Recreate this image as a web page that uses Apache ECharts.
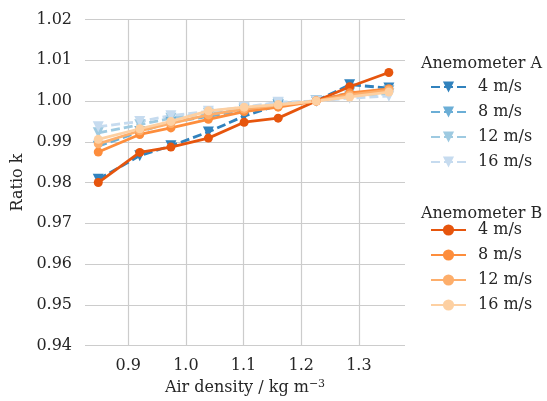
<!DOCTYPE html>
<html>
<head>
<meta charset="utf-8">
<script src="https://cdn.jsdelivr.net/npm/echarts@6/dist/echarts.min.js"></script>
<style>html,body{margin:0;padding:0;background:#fff}#c{width:547px;height:401px}</style>
</head>
<body>
<div id="c"></div>
<script>
var airDensity = [0.848, 0.920, 0.974, 1.039, 1.101, 1.160, 1.226, 1.284, 1.352];
var speedLabels = ['4 m/s', '8 m/s', '12 m/s', '16 m/s'];
var anemA_4  = [0.9808, 0.9866, 0.9890, 0.9924, 0.9963, 0.9990, 1.0000, 1.0040, 1.0032];
var anemA_8  = [0.9889, 0.9925, 0.9948, 0.9962, 0.9978, 0.9990, 1.0000, 1.0020, 1.0025];
var anemA_12 = [0.9922, 0.9942, 0.9958, 0.9970, 0.9982, 0.9995, 1.0000, 1.0012, 1.0018];
var anemA_16 = [0.9937, 0.9950, 0.9964, 0.9975, 0.9985, 0.9997, 1.0000, 1.0007, 1.0012];
var anemB_4  = [0.9800, 0.9874, 0.9887, 0.9909, 0.9948, 0.9958, 1.0000, 1.0035, 1.0070];
var anemB_8  = [0.9875, 0.9918, 0.9934, 0.9955, 0.9974, 0.9985, 1.0000, 1.0020, 1.0030];
var anemB_12 = [0.9895, 0.9927, 0.9945, 0.9966, 0.9980, 0.9990, 1.0000, 1.0015, 1.0027];
var anemB_16 = [0.9906, 0.9932, 0.9950, 0.9976, 0.9985, 0.9991, 1.0000, 1.0010, 1.0022];
var xTicks = [0.9, 1.0, 1.1, 1.2, 1.3];

var blues = ['#3182bd', '#6baed6', '#9ecae1', '#c6dbef'];
var oranges = ['#e6550d', '#fd8d3c', '#fdae6b', '#fdd0a2'];
var font = 'DejaVu Serif';
var fs = 16;

function pairs(ys) { return airDensity.map(function (x, i) { return [x, ys[i]]; }); }

var A = [anemA_4, anemA_8, anemA_12, anemA_16];
var B = [anemB_4, anemB_8, anemB_12, anemB_16];
var series = [];
A.forEach(function (ys, i) {
  series.push({
    name: 'A ' + speedLabels[i], type: 'line', data: pairs(ys),
    symbol: 'triangle', symbolRotate: 180, symbolSize: 11,
    lineStyle: { color: blues[i], width: 2.8, type: [9, 4] },
    itemStyle: { color: blues[i] }, z: 2
  });
});
B.forEach(function (ys, i) {
  series.push({
    name: 'B ' + speedLabels[i], type: 'line', data: pairs(ys),
    symbol: 'circle', symbolSize: 9,
    lineStyle: { color: oranges[i], width: 2.8 },
    itemStyle: { color: oranges[i] }, z: 3
  });
});

function legendFor(prefix, top) {
  return {
    data: speedLabels.map(function (s) { return prefix + s; }),
    orient: 'vertical', left: 430, top: top, padding: 0,
    itemWidth: 35, itemHeight: 14, itemGap: 9,
    formatter: function (n) { return n.slice(2); },
    textStyle: { fontFamily: font, fontSize: fs, color: '#262626', padding: [0, 0, 0, 7] }
  };
}

var chart = echarts.init(document.getElementById('c'));
chart.setOption({
  animation: false,
  backgroundColor: '#fff',
  grid: { left: 85, right: 142, top: 19.5, bottom: 55 },
  xAxis: {
    type: 'value', min: 0.825, max: 1.38,
    name: 'Air density / kg m{sup|\u22123}', nameLocation: 'middle', nameGap: 32,
    nameTextStyle: { fontFamily: font, fontSize: fs, color: '#262626',
      rich: { sup: { fontFamily: font, fontSize: 11, color: '#262626', verticalAlign: 'top', padding: [0, 0, 8, 0] } } },
    axisLine: { show: false }, axisTick: { show: false, customValues: xTicks },
    axisLabel: { customValues: xTicks, fontFamily: font, fontSize: fs, color: '#262626', margin: 12,
      formatter: function (v) { return v.toFixed(1); } },
    splitLine: { show: true, lineStyle: { color: '#cccccc', width: 1.2 } }
  },
  yAxis: {
    type: 'value', min: 0.94, max: 1.02, interval: 0.01,
    name: 'Ratio k', nameLocation: 'middle', nameGap: 53,
    nameTextStyle: { fontFamily: font, fontSize: fs, color: '#262626' },
    axisLine: { show: false }, axisTick: { show: false },
    axisLabel: { fontFamily: font, fontSize: fs, color: '#262626', margin: 13,
      formatter: function (v) { return v.toFixed(2); } },
    splitLine: { show: true, lineStyle: { color: '#cccccc', width: 1.2 } }
  },
  legend: [legendFor('A ', 79), legendFor('B ', 222)],
  graphic: [
    { type: 'text', left: 421, top: 56, style: { text: 'Anemometer A', font: fs + 'px "DejaVu Serif"', fill: '#262626' } },
    { type: 'text', left: 421, top: 206, style: { text: 'Anemometer B', font: fs + 'px "DejaVu Serif"', fill: '#262626' } }
  ],
  series: series
});
</script>
</body>
</html>
